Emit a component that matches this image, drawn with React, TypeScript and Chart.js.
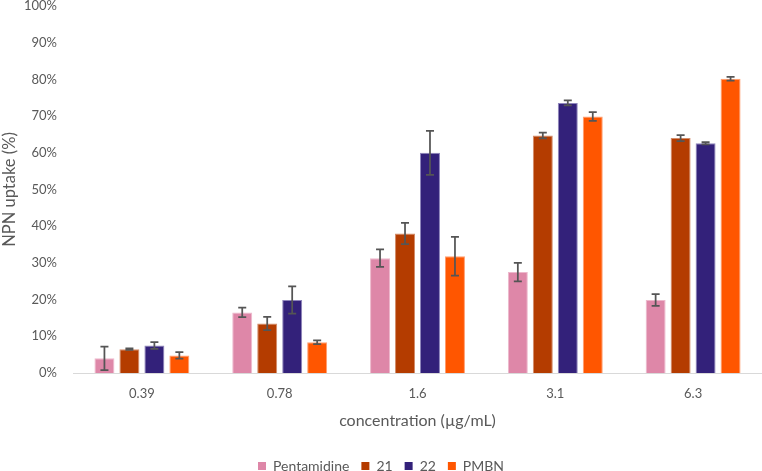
import React, { useEffect, useRef } from "react";
import { Chart, registerables } from "chart.js";

Chart.register(...registerables);

const categories = ["0.39", "0.78", "1.6", "3.1", "6.3"];
const seriesNames = ["Pentamidine", "21", "22", "PMBN"];
const pentamidine = [4.0, 16.5, 31.3, 27.5, 19.9];
const pentamidineErr = [3.2, 1.3, 2.4, 2.5, 1.6];
const c21 = [6.5, 13.5, 38.0, 64.7, 64.0];
const c21Err = [0.2, 1.8, 2.9, 0.8, 0.8];
const c22 = [7.5, 19.9, 60.0, 73.6, 62.6];
const c22Err = [0.9, 3.7, 6.0, 0.7, 0.3];
const pmbn = [4.8, 8.4, 31.8, 69.9, 80.2];
const pmbnErr = [0.9, 0.5, 5.3, 1.2, 0.5];
const colors = ["#DE87A8", "#B43C00", "#33217A", "#FF5600"];
const borderColors = ["#EDB8CC", "#D38C6A", "#8F86BC", "#FF9E70"];
const yTicks = [0, 10, 20, 30, 40, 50, 60, 70, 80, 90, 100];

const FONT = "Lato";

const errorBarPlugin = {
  id: "errorBars",
  afterDatasetsDraw(chart: any) {
    const ctx = chart.ctx;
    const yScale = chart.scales.y;
    ctx.save();
    ctx.strokeStyle = "#555555";
    ctx.lineWidth = 1.75;
    chart.data.datasets.forEach((ds: any, i: number) => {
      const meta = chart.getDatasetMeta(i);
      meta.data.forEach((el: any, j: number) => {
        const v = ds.data[j];
        const e = ds.errors[j];
        const yTop = yScale.getPixelForValue(v + e);
        const yBot = yScale.getPixelForValue(v - e);
        const x = el.x;
        ctx.beginPath();
        ctx.moveTo(x, yTop);
        ctx.lineTo(x, yBot);
        ctx.moveTo(x - 4, yTop);
        ctx.lineTo(x + 4, yTop);
        ctx.moveTo(x - 4, yBot);
        ctx.lineTo(x + 4, yBot);
        ctx.stroke();
      });
    });
    ctx.restore();
  },
};

export default function App() {
  const ref = useRef<HTMLCanvasElement | null>(null);
  useEffect(() => {
    document.body.style.margin = "0";
    const values = [pentamidine, c21, c22, pmbn];
    const errs = [pentamidineErr, c21Err, c22Err, pmbnErr];
    const chart = new Chart(ref.current as HTMLCanvasElement, {
      type: "bar",
      data: {
        labels: categories,
        datasets: seriesNames.map((n, i) => ({
          label: n,
          data: values[i],
          errors: errs[i],
          backgroundColor: colors[i],
          borderColor: borderColors[i],
          borderWidth: 1,
          categoryPercentage: 0.725,
          barPercentage: 0.8,
        })) as any,
      },
      options: {
        animation: false,
        responsive: false,
        layout: { padding: { top: 6, right: 0, left: 0, bottom: -12 } },
        plugins: {
          tooltip: { enabled: false },
          legend: {
            position: "bottom",
            labels: {
              boxWidth: 8,
              boxHeight: 8,
              color: "#595959",
              font: { family: FONT, size: 14 },
              padding: 12,
              generateLabels: (c: any) =>
                seriesNames.map((n, i) => ({
                  text: n,
                  fillStyle: colors[i],
                  strokeStyle: colors[i],
                  lineWidth: 0,
                  fontColor: "#595959",
                  hidden: false,
                  datasetIndex: i,
                })),
            },
          },
        },
        scales: {
          x: {
            grid: { display: false },
            border: { display: true, color: "#D9D9D9", width: 1 },
            ticks: { color: "#595959", font: { family: FONT, size: 13 }, padding: 5 },
            title: {
              display: true,
              text: "concentration (µg/mL)",
              color: "#595959",
              font: { family: FONT, size: 16 },
              padding: { top: 4, bottom: 17 },
            },
            afterFit: (s: any) => {
              s.height = 74;
            },
          },
          y: {
            min: 0,
            max: 100,
            afterBuildTicks: (s: any) => {
              s.ticks = yTicks.map((v) => ({ value: v }));
            },
            grid: { display: false },
            border: { display: false },
            ticks: {
              color: "#595959",
              font: { family: FONT, size: 13 },
              callback: (v: any) => v + "%",
              padding: 8,
            },
            title: {
              display: true,
              text: "NPN uptake (%)",
              color: "#595959",
              font: { family: FONT, size: 16.5 },
              padding: 0,
            },
            afterFit: (s: any) => {
              s.width = 73;
              s.paddingTop = 0;
              s.paddingBottom = 0;
            },
          },
        },
      },
      plugins: [errorBarPlugin],
    });
    return () => chart.destroy();
  }, []);
  return (
    <div style={{ width: 762, height: 471 }}>
      <canvas ref={ref} width={762} height={471} />
    </div>
  );
}
